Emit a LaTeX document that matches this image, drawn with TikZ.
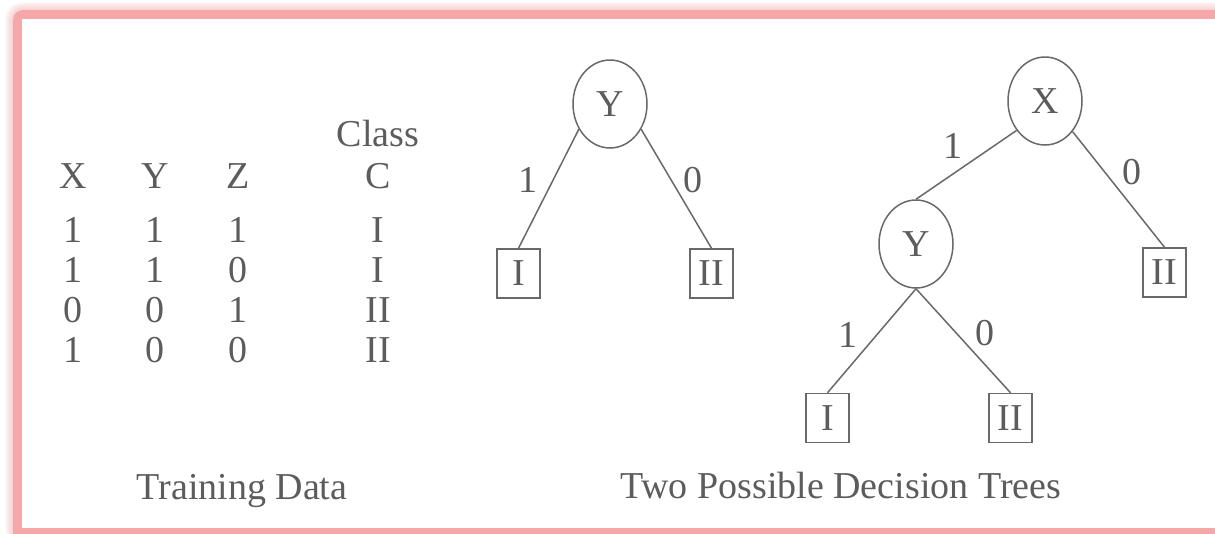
\documentclass[tikz,border=0pt]{standalone}
\usepackage{fontspec}
\setmainfont{Liberation Serif}
\usetikzlibrary{shapes.geometric}
\definecolor{framepink}{RGB}{246,168,168}
\definecolor{ink}{RGB}{92,92,92}
\definecolor{edgegray}{RGB}{105,105,105}

\begin{document}
\begin{tikzpicture}[x=1pt,y=-1pt,
  every node/.style={text=ink, font=\fontsize{38}{44}\selectfont, inner sep=0pt},
  cell/.style={anchor=base},
  testnode/.style={ellipse, draw=edgegray, line width=1.5pt,
    minimum width=74pt, minimum height=88pt},
  leaf/.style={rectangle, draw=edgegray, line width=1.5pt,
    minimum width=43pt, minimum height=49pt},
  branch/.style={draw=edgegray, line width=1.5pt},
  blabel/.style={anchor=center}]

\useasboundingbox (0,0) rectangle (1215,533);
\fill[white] (0,0) rectangle (1215,533);

% soft pink frame: blurred halo, solid band, white panel
\foreach \d in {1,...,8}
  \fill[framepink, opacity=0.07, rounded corners=10+\d] (13-\d,10-\d) rectangle (1250,545);
\fill[framepink, rounded corners=10] (13,10) rectangle (1250,545);
\fill[white] (22,19) rectangle (1215,528);

% training table
\node[cell] (class) at (378,146) {Class};
\node[cell] (hx) at (73,188) {X};
\node[cell] (hy) at (155,188) {Y};
\node[cell] (hz) at (238,188) {Z};
\node[cell] (hc) at (378,188) {C};

\node[cell] (r1x) at (73,242) {1};
\node[cell] (r1y) at (155,242) {1};
\node[cell] (r1z) at (238,242) {1};
\node[cell] (r1c) at (378,242) {I};

\node[cell] (r2x) at (73,282) {1};
\node[cell] (r2y) at (155,282) {1};
\node[cell] (r2z) at (238,282) {0};
\node[cell] (r2c) at (378,282) {I};

\node[cell] (r3x) at (73,322) {0};
\node[cell] (r3y) at (155,322) {0};
\node[cell] (r3z) at (238,322) {1};
\node[cell] (r3c) at (378,322) {II};

\node[cell] (r4x) at (73,362) {1};
\node[cell] (r4y) at (155,362) {0};
\node[cell] (r4z) at (238,362) {0};
\node[cell] (r4c) at (378,362) {II};

\node[cell] (tdata) at (242,499) {Training Data};

% first tree: split on Y
\node[testnode] (ta) at (610,104) {Y};
\node[leaf] (ta1) at (518.5,273.5) {I};
\node[leaf] (ta0) at (711.5,273.5) {II};
\draw[branch] (ta.219) -- (ta1.north);
\draw[branch] (ta.321) -- (ta0.north);
\node[blabel] (la1) at (528,180) {1};
\node[blabel] (la0) at (693,180) {0};

% second tree: split on X, then Y
\node[testnode] (tb) at (1045,101) {X};
\node[testnode] (tby) at (916,244) {Y};
\node[leaf] (tb0) at (1164.5,272.5) {II};
\node[leaf] (tby1) at (827.5,418) {I};
\node[leaf] (tby0) at (1010.5,418) {II};
\draw[branch] (tb.226) -- (tby.north);
\draw[branch] (tb.312) -- (tb0.north);
\draw[branch] (tby.south) -- (tby1.north);
\draw[branch] (tby.south) -- (tby0.north);
\node[blabel] (lb1) at (953,146) {1};
\node[blabel] (lb0) at (1132,172) {0};
\node[blabel] (lby1) at (848,335) {1};
\node[blabel] (lby0) at (985,333) {0};

\node[cell] (ttrees) at (841,498) {Two Possible Decision Trees};
\end{tikzpicture}
\end{document}
